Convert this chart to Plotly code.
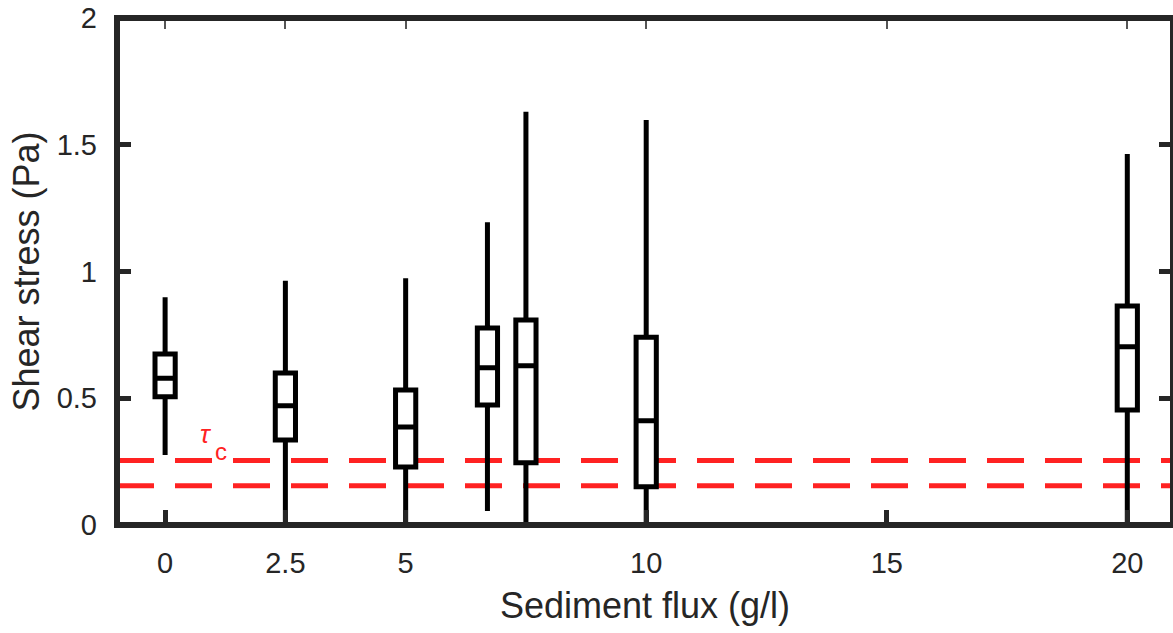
import plotly.graph_objects as go

# Sediment flux (g/l) for each run and the shear stress distribution (Pa)
flux = [0, 2.5, 5, 6.7, 7.5, 10, 20]
lower_whisker = [0.276, 0.0, 0.0, 0.055, 0.0, 0.0, 0.0]
q1 = [0.506, 0.335, 0.229, 0.473, 0.246, 0.151, 0.454]
median = [0.579, 0.470, 0.387, 0.620, 0.628, 0.411, 0.703]
q3 = [0.675, 0.600, 0.533, 0.777, 0.809, 0.741, 0.864]
upper_whisker = [0.898, 0.964, 0.973, 1.194, 1.630, 1.598, 1.464]

# critical shear stress band
tau_c = [0.155, 0.254]

x_ticks = [0, 2.5, 5, 10, 15, 20]
x_tick_text = ["0", "2.5", "5", "10", "15", "20"]
y_ticks = [0, 0.5, 1, 1.5, 2]
y_tick_text = ["0", "0.5", "1", "1.5", "2"]

INK = "#262626"
RED = "#ff2222"
FONT = "Liberation Sans, Arial, Helvetica, sans-serif"
X_RANGE = [-1.0, 20.95]
Y_RANGE = [0.0, 2.0]

fig = go.Figure()

fig.add_trace(go.Box(
    x=flux,
    q1=q1,
    median=median,
    q3=q3,
    lowerfence=lower_whisker,
    upperfence=upper_whisker,
    width=0.42,
    whiskerwidth=0,
    fillcolor="white",
    line=dict(color="black", width=5),
    boxpoints=False,
    hoverinfo="skip",
    showlegend=False,
))

# dashed threshold lines sit underneath the boxes
for t in tau_c:
    fig.add_shape(
        type="line", xref="x", yref="y",
        x0=X_RANGE[0], x1=X_RANGE[1], y0=t, y1=t,
        line=dict(color=RED, width=5, dash="37px,21px"),
        layer="below",
    )

# axes frame centred on the plot edges
fig.add_shape(
    type="rect", xref="paper", yref="paper", x0=0, x1=1, y0=0, y1=1,
    line=dict(color=INK, width=6), fillcolor="rgba(0,0,0,0)", layer="above",
)

# tau_c label
fig.add_annotation(
    x=0.85, y=0.36, xref="x", yref="y", text="<i>τ</i>", showarrow=False,
    font=dict(family=FONT, size=26, color=RED),
)
fig.add_annotation(
    x=1.17, y=0.29, xref="x", yref="y", text="c", showarrow=False,
    font=dict(family=FONT, size=24, color=RED),
)

fig.update_layout(
    width=1173, height=633,
    margin=dict(l=117, r=0, t=18, b=108),
    paper_bgcolor="white",
    plot_bgcolor="white",
    font=dict(family=FONT, color=INK),
    showlegend=False,
    xaxis=dict(
        range=X_RANGE,
        tickvals=x_ticks, ticktext=x_tick_text,
        ticks="inside", ticklen=15, tickwidth=5, tickcolor=INK,
        ticklabelstandoff=18,
        showline=False, showgrid=False, zeroline=False,
        tickfont=dict(size=29, color=INK),
        title=dict(text="Sediment flux (g/l)", font=dict(size=36, color=INK), standoff=14),
    ),
    xaxis2=dict(
        range=X_RANGE, overlaying="x", side="top", anchor="y",
        tickvals=x_ticks, ticks="inside", ticklen=11, tickwidth=2,
        tickcolor="#555555", showticklabels=False,
        showline=False, showgrid=False, zeroline=False,
    ),
    yaxis=dict(
        range=Y_RANGE,
        tickvals=y_ticks, ticktext=y_tick_text,
        ticks="inside", ticklen=14, tickwidth=5, tickcolor=INK,
        ticklabelstandoff=19,
        mirror="ticks",
        showline=False, showgrid=False, zeroline=False,
        tickfont=dict(size=29, color=INK),
        title=dict(text="Shear stress (Pa)", font=dict(size=36, color=INK), standoff=6),
    ),
)

# invisible trace to activate the top tick axis
fig.add_trace(go.Scatter(x=[X_RANGE[0]], y=[Y_RANGE[0]], xaxis="x2", yaxis="y",
                         mode="markers", marker=dict(opacity=0), hoverinfo="skip",
                         showlegend=False))

fig.write_html("out.html")
